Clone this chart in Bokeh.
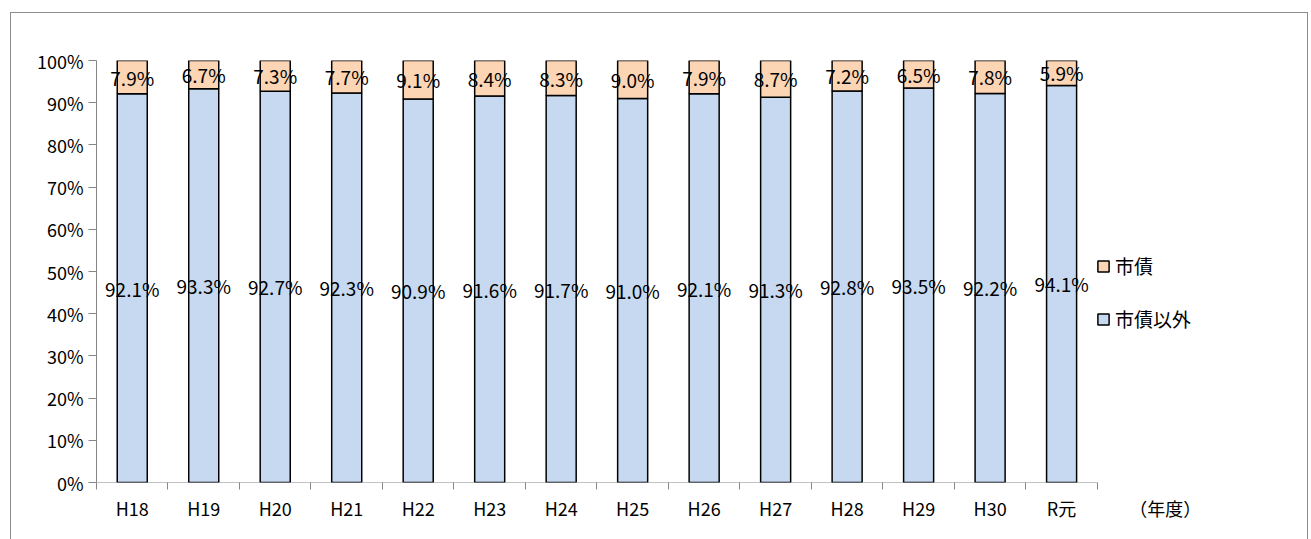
from bokeh.plotting import figure
from bokeh.models import (ColumnDataSource, FixedTicker, Legend, LegendItem,
                          CustomJSTickFormatter)
from bokeh.core.properties import value
from bokeh.embed import file_html
from bokeh.resources import INLINE

years = ["H18", "H19", "H20", "H21", "H22", "H23", "H24", "H25", "H26", "H27",
         "H28", "H29", "H30", "R元"]
other = [92.1, 93.3, 92.7, 92.3, 90.9, 91.6, 91.7, 91.0, 92.1, 91.3, 92.8, 93.5, 92.2, 94.1]
bond = [7.9, 6.7, 7.3, 7.7, 9.1, 8.4, 8.3, 9.0, 7.9, 8.7, 7.2, 6.5, 7.8, 5.9]

FONT = "Noto Sans CJK JP"
n = len(years)
xs = [i + 0.5 for i in range(n)]
src = ColumnDataSource(dict(
    x=xs, other=other, bond=bond,
    top=[o + b for o, b in zip(other, bond)],
    omid=[o / 2 for o in other],
    bmid=[o + b / 2 for o, b in zip(other, bond)],
    olab=["%.1f%%" % v for v in other],
    blab=["%.1f%%" % v for v in bond],
))

p = figure(width=1298, height=540, x_range=(0, 16.8), y_range=(0, 100),
           output_backend="svg", toolbar_location=None,
           min_border_left=85, min_border_top=47, min_border_bottom=71,
           min_border_right=10, frame_width=1201, frame_height=422)
p.outline_line_color = None
p.grid.grid_line_color = None
p.styles = {"margin-left": "10px", "margin-top": "12px",
            "border": "1.5px solid #8c8c8c"}

# x axis line only across the categories
p.segment(x0=0, y0=0, x1=n, y1=0, line_color="#868686", line_width=1)

r_other = p.vbar(x="x", bottom=0, top="other", width=0.42, source=src,
                 fill_color="#C6D9F1", line_color="black", line_width=1.5)
r_bond = p.vbar(x="x", bottom="other", top="top", width=0.42, source=src,
                fill_color="#FCD5B4", line_color="black", line_width=1.5)

p.text(x="x", y="omid", text="olab", source=src, text_align="center",
       text_baseline="middle", text_font=value(FONT), text_font_size="19px")
p.text(x="x", y="bmid", text="blab", source=src, text_align="center",
       text_baseline="middle", text_font=value(FONT), text_font_size="19px")

p.yaxis.ticker = FixedTicker(ticks=list(range(0, 101, 10)))
p.yaxis.formatter = CustomJSTickFormatter(code="return tick + '%';")
p.yaxis.minor_tick_line_color = None
unit_x = n + 0.95
p.xaxis.ticker = FixedTicker(ticks=xs + [unit_x], minor_ticks=list(range(n + 1)))
overrides = {x: y for x, y in zip(xs, years)}
overrides[unit_x] = "（年度）"
p.xaxis.major_label_overrides = overrides
p.xaxis.major_tick_line_color = None
p.xaxis.axis_line_color = None
p.xaxis.minor_tick_out = 7
p.xaxis.minor_tick_in = 0
p.xaxis.minor_tick_line_color = "#868686"
for ax in (p.xaxis, p.yaxis):
    ax.major_label_text_font = FONT
    ax.major_label_text_font_size = "18px"
    ax.major_label_text_color = "black"
p.yaxis.axis_line_color = "#868686"
p.yaxis.major_tick_line_color = "#868686"
p.yaxis.major_tick_out = 8
p.yaxis.major_tick_in = 0

legend = Legend(items=[LegendItem(label="市債", renderers=[r_bond]),
                       LegendItem(label="市債以外", renderers=[r_other])],
                location=(1000, 150), border_line_color=None,
                background_fill_alpha=0,
                label_text_font=FONT, label_text_font_size="19px",
                label_text_color="black",
                glyph_width=14, glyph_height=14, spacing=26)
p.add_layout(legend, "center")

out = open("out.html", "w")
out.write(file_html(p, INLINE))
out.close()
